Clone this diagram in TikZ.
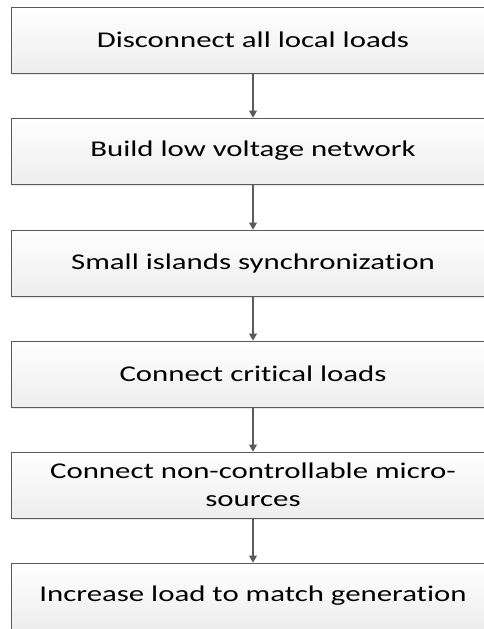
\documentclass[tikz,border=0pt]{standalone}
\usepackage{fontspec}
\setmainfont{Carlito}[FakeStretch=1.37, Ligatures=CommonOff]
\usetikzlibrary{shadows,arrows.meta}
\definecolor{edge}{HTML}{5A5A5A}
\tikzset{
  stepbox/.style={draw=edge, line width=0.9pt, top color=white, bottom color=black!7,
    minimum width=484pt, minimum height=66pt, inner sep=0pt, align=center,
    font=\fontsize{22.5}{28}\selectfont,
    drop shadow={opacity=0.18, shadow xshift=1pt, shadow yshift=-1.5pt}},
  flow/.style={draw=edge, line width=1.1pt, -{Triangle[length=7pt,width=8pt]}}
}
\begin{document}
\begin{tikzpicture}[x=1pt,y=1pt]
\useasboundingbox (0,0) rectangle (484,-629);
\clip (0,0) rectangle (484,-629);
\node[stepbox] (s1) at (253,-40)  {Disconnect all local loads};
\node[stepbox] (s2) at (253,-151) {Build low voltage network};
\node[stepbox] (s3) at (253,-263) {Small islands synchronization};
\node[stepbox] (s4) at (253,-374) {Connect critical loads};
\node[stepbox] (s5) at (253,-485) {Connect non-controllable micro-\\sources};
\node[stepbox] (s6) at (253,-596) {Increase load to match generation};
\foreach \a/\b in {s1/s2,s2/s3,s3/s4,s4/s5,s5/s6}
  \draw[flow] (\a.south) -- (\b.north);
\end{tikzpicture}
\end{document}
